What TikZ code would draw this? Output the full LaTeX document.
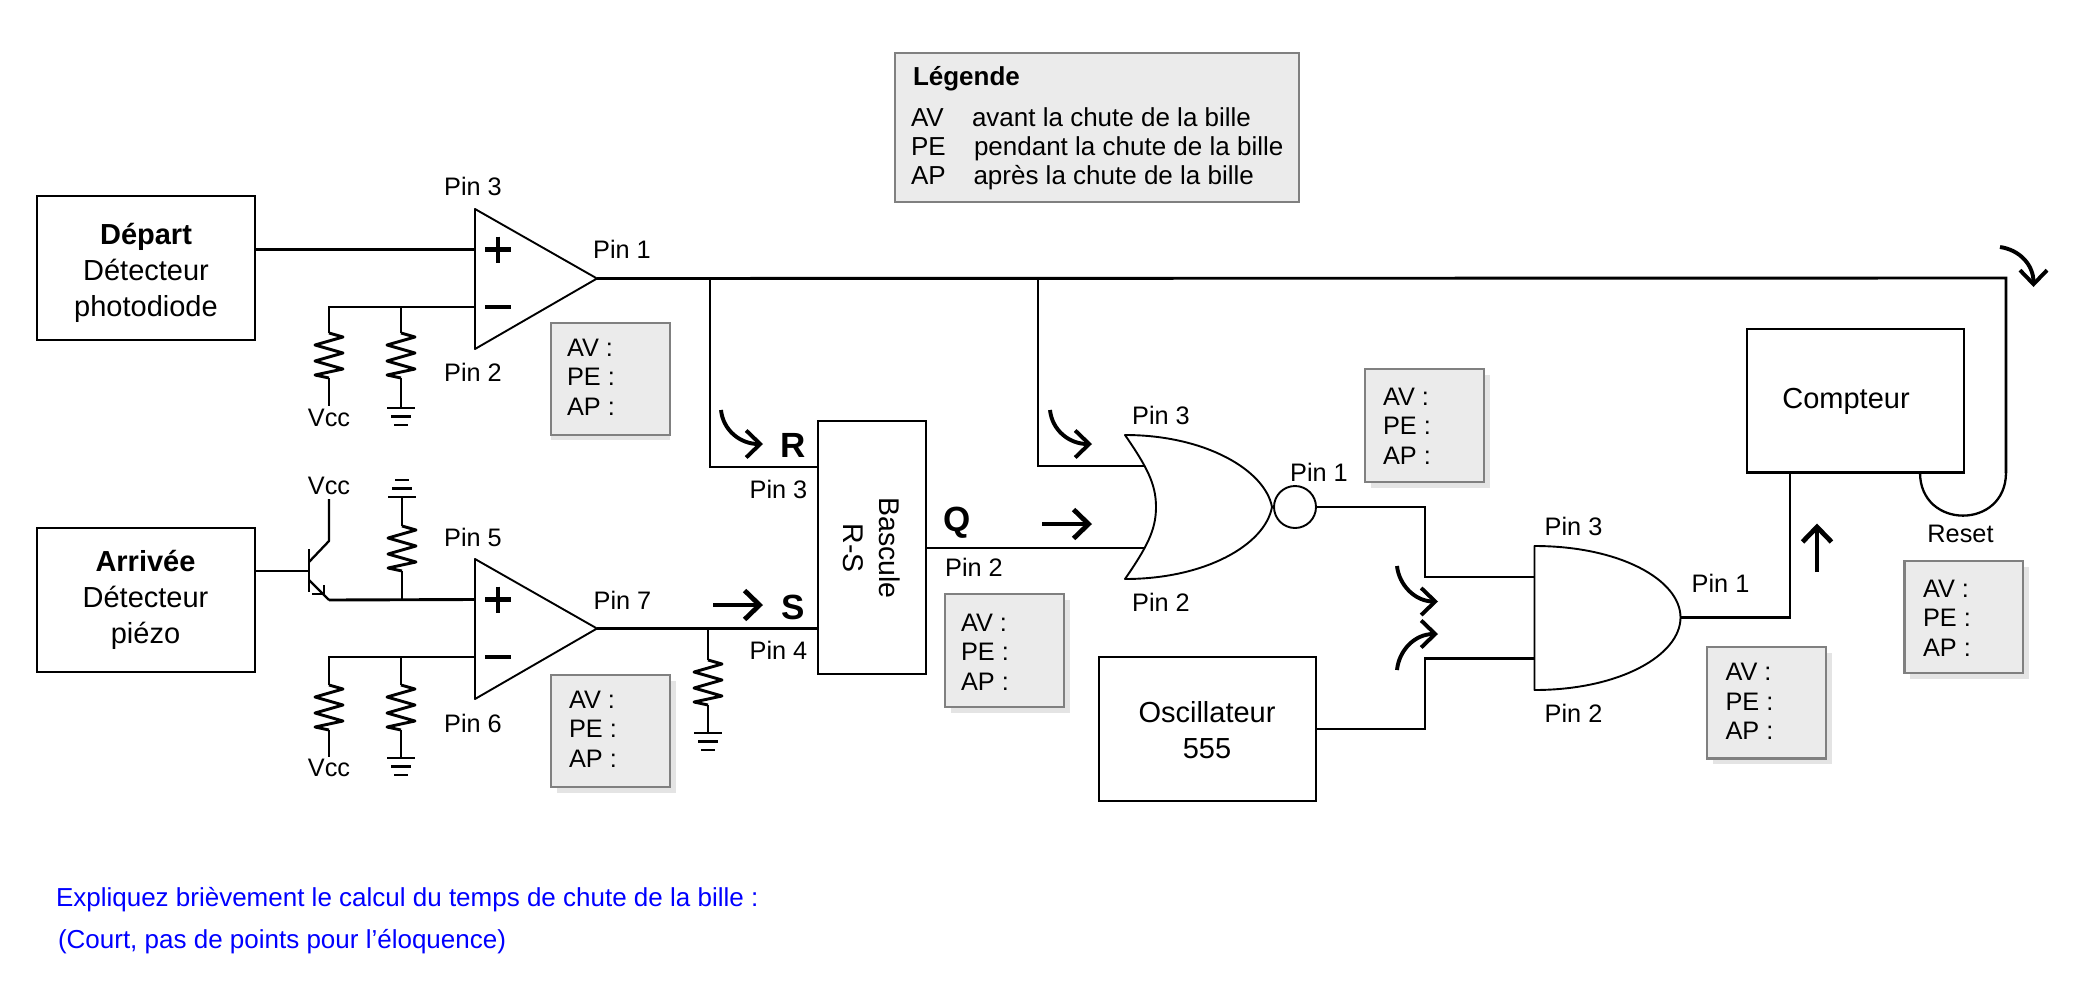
\documentclass[tikz,border=0pt]{standalone}
\usepackage{fontspec}
\setmainfont{Liberation Sans}
\usetikzlibrary{arrows.meta}
\definecolor{grayfill}{HTML}{EBEBEB}
\definecolor{grayline}{HTML}{808080}
\definecolor{grayshadow}{HTML}{E4E4E4}
\tikzset{
  wire/.style={line width=2.9pt,line join=miter,line cap=butt},
  thinwire/.style={line width=2.3pt,line join=round},
  gate/.style={line width=1.9pt,fill=white,line join=round},
  cbox/.style={draw,line width=2.6pt,fill=white,inner sep=0pt,outer sep=0pt,align=center,font=\fontsize{29}{37}\selectfont},
  pinlabel/.style={inner sep=0pt,outer sep=0pt,font=\fontsize{25.3}{25}\selectfont},
  biglabel/.style={inner sep=0pt,outer sep=0pt,font=\fontsize{29}{36}\selectfont,align=center},
  siglabel/.style={inner sep=0pt,outer sep=0pt,font=\bfseries\fontsize{35}{35}\selectfont},
  graybox/.style={draw=grayline,line width=2.8pt,fill=grayfill,inner sep=0pt,outer sep=0pt},
  shadowbox/.style={fill=grayshadow,draw=none},
  vals/.style={inner sep=0pt,outer sep=0pt,anchor=west,align=left,font=\fontsize{25.3}{29.6}\selectfont},
  legendtext/.style={inner sep=0pt,outer sep=0pt,anchor=base west,font=\fontsize{26}{26}\selectfont},
  bluetext/.style={inner sep=0pt,outer sep=0pt,anchor=base west,text=blue,font=\fontsize{26}{26}\selectfont},
  flowarrow/.style={line width=4.8pt,line cap=butt,-{Straight Barb[length=15pt,width=29pt,line width=4.8pt]}},
  curvearrow/.style={line width=3.9pt,line cap=butt,-{Straight Barb[length=14pt,width=27pt,line width=3.9pt]}},
  sign/.style={line width=4.4pt,line cap=butt},
}
% resistor: name, x, top y (45 high)
\newcommand{\resist}[3]{%
  \coordinate (#1-t) at (#2,#3);
  \coordinate (#1-b) at (#2,#3+45);
  \draw[wire,line join=round] (#1-t) -- ++(14,4) -- ++(-28,8) -- ++(28,8) -- ++(-28,8) -- ++(28,8) -- ++(-28,6) -- (#1-b);
}
% ground: name, x, y of main bar, direction (1 down, -1 up)
\newcommand{\earth}[4]{%
  \coordinate (#1) at (#2,#3);
  \draw[wire] (#2-14,#3) -- (#2+14,#3);
  \draw[wire] (#2-10,#3+8.5*#4) -- (#2+10,#3+8.5*#4);
  \draw[wire] (#2-7,#3+17*#4) -- (#2+7,#3+17*#4);
}
% op amp: name, x left, y top
\newcommand{\opamp}[3]{%
  \coordinate (#1-ta) at (#2,#3);
  \coordinate (#1-tb) at (#2,#3+140);
  \coordinate (#1-out) at (#2+122,#3+69.5);
  \coordinate (#1-plus) at (#2,#3+40.5);
  \coordinate (#1-minus) at (#2,#3+98);
  \draw[gate] (#1-ta) -- (#1-out) -- (#1-tb) -- cycle;
  \draw[sign] (#2+10,#3+40.5) -- (#2+36,#3+40.5);
  \draw[sign] (#2+23,#3+27.5) -- (#2+23,#3+53.5);
  \draw[sign] (#2+10,#3+98) -- (#2+36,#3+98);
}
% value box: name, left, top, right, bottom, shadow dx, shadow dy, text x, text y
\newcommand{\valuebox}[9]{%
  \fill[shadowbox] (#2+#6,#3+#7) rectangle (#4+#6,#5+#7);
  \node[graybox,minimum width=#4pt-#2pt,minimum height=#5pt-#3pt] (#1) at ({(#2+#4)/2},{(#3+#5)/2}) {};
  \node[vals] (#1-text) at (#8,#9) {AV :\\PE :\\AP :};
}
\begin{document}
\begin{tikzpicture}[x=1pt,y=-1pt]
\useasboundingbox (0,0) rectangle (2080,980);

% ---- legend
\node[graybox,minimum width=404pt,minimum height=149pt] (legend) at (1097,127.5) {};
\node[legendtext,font=\bfseries\fontsize{26}{26}\selectfont] (legtitle) at (913,85.5) {Légende};
\node[legendtext] (l1a) at (911,126) {AV};
\node[legendtext] (l1b) at (972,126) {avant la chute de la bille};
\node[legendtext] (l2a) at (911,155) {PE};
\node[legendtext] (l2b) at (974,155) {pendant la chute de la bille};
\node[legendtext] (l3a) at (911,184) {AP};
\node[legendtext] (l3b) at (973.5,184) {après la chute de la bille};

% ---- source boxes
\node[cbox,minimum width=218pt,minimum height=144pt] (depart) at (146,268) {};
\node[biglabel] (departtxt) at (146,272.5) {\textbf{Départ}\\Détecteur\\photodiode};
\node[cbox,minimum width=218pt,minimum height=144pt] (arrivee) at (146,600) {};
\node[biglabel] (arriveetxt) at (145.5,599.5) {\textbf{Arrivée}\\Détecteur\\piézo};

% ---- op amp 1
\opamp{oa1}{475}{209}
\draw[wire] (depart.east |- oa1-plus) -- (oa1-plus);
\resist{r1}{329}{333}
\resist{r2}{401}{333}
\earth{g1}{401}{408}{1}
\coordinate (j1) at (401,307);
\draw[wire] (oa1-minus) -- (r1-t |- oa1-minus) -- (r1-t);
\draw[wire] (j1) -- (r2-t);
\coordinate (vcc1) at (329,406);
\draw[wire] (r1-b) -- (vcc1);
\draw[wire] (r2-b) -- (g1);
\node[pinlabel] (vcc1txt) at (329,418) {Vcc};
\node[pinlabel] (p13) at (473,186) {Pin 3};
\node[pinlabel] (p11) at (622,249) {Pin 1};
\node[pinlabel] (p12) at (473,372) {Pin 2};
\valuebox{v1}{551}{323}{670}{435}{0}{5}{567}{377}

% ---- transistor
\coordinate (tb) at (309,571);
\coordinate (te) at (329,600);
\coordinate (tc) at (329,541);
\coordinate (vcc2) at (329,499);
\draw[wire] (arrivee.east |- tb) -- (tb);
\draw[wire] (309,549) -- (309,592);
\draw[thinwire] (309,562) -- (tc) -- (vcc2);
\draw[thinwire] (309,580) -- (te);
\draw[thinwire] (312,594) -- (324,594) -- (324,585);
\node[pinlabel] (vcc2txt) at (329,486) {Vcc};

% ---- op amp 2
\opamp{oa2}{475}{559}
\draw[wire] (te) -- (oa2-plus);
\resist{r3}{402}{526}
\earth{g3}{402}{497}{-1}
\coordinate (j3) at (402,600);
\draw[wire] (r3-t) -- (g3);
\draw[wire] (r3-b) -- (j3);
\resist{r4}{329}{685}
\resist{r5}{401}{685}
\earth{g5}{401}{758}{1}
\coordinate (j5) at (401,657);
\draw[wire] (oa2-minus) -- (r4-t |- oa2-minus) -- (r4-t);
\draw[wire] (j5) -- (r5-t);
\coordinate (vcc3) at (329,757);
\draw[wire] (r4-b) -- (vcc3);
\draw[wire] (r5-b) -- (g5);
\node[pinlabel] (vcc3txt) at (329,768) {Vcc};
\node[pinlabel] (p25) at (473,537) {Pin 5};
\node[pinlabel] (p27) at (622.5,600) {Pin 7};
\node[pinlabel] (p26) at (473,723) {Pin 6};
\valuebox{v2}{551}{675}{670}{787}{5.5}{5.5}{569}{729}

% ---- bascule
\node[cbox,minimum width=108pt,minimum height=253pt] (bascule) at (872,547.5) {};
\node[biglabel,rotate=-90,font=\fontsize{28.5}{35.5}\selectfont] (basculetxt) at (871.5,548) {Bascule\\R-S};
\coordinate (top1) at (710,278);
\coordinate (top2) at (1038,278);
\coordinate (rin) at (818,467);
\draw[wire] (oa1-out) -- (2006,278) -- (2006,473);
\draw[wire] (top1) -- (rin -| top1) -- (rin);
\coordinate (sj) at (708,629);
\draw[wire] (oa2-out) -- (bascule.west |- oa2-out);
\resist{r6}{708}{660}
\earth{g6}{708}{733}{1}
\draw[wire] (sj) -- (r6-t);
\draw[wire] (r6-b) -- (g6);
\node[siglabel] (rlab) at (793,445) {R};
\node[siglabel] (slab) at (793,607) {S};
\node[siglabel] (qlab) at (957,523) {Q};
\node[pinlabel] (b3) at (778.5,489) {Pin 3};
\node[pinlabel] (b4) at (778.5,650) {Pin 4};
\node[pinlabel] (b2) at (974,567) {Pin 2};
\valuebox{v3}{945}{594}{1064}{707}{5.5}{5.5}{961}{652}

% ---- NOR gate
\coordinate (nora) at (1147,466);
\coordinate (norb) at (1147,548);
\draw[wire] (top2) -- (nora -| top2) -- (nora);
\draw[wire] (bascule.east |- norb) -- (norb);
\draw[gate] (1125,435) .. controls (1205,435) and (1265,470) .. (1272,507)
  .. controls (1265,545) and (1205,579) .. (1125,579)
  .. controls (1147,547) and (1156,530) .. (1156,507)
  .. controls (1156,484) and (1147,467) .. cycle;
\node[draw,circle,line width=1.9pt,minimum size=42pt,inner sep=0pt,outer sep=0pt,fill=white] (bubble) at (1295,507) {};
\node[pinlabel] (n3) at (1161,415) {Pin 3};
\node[pinlabel] (n2) at (1161,602) {Pin 2};
\node[pinlabel] (n1) at (1319,472) {Pin 1};
\valuebox{v4}{1365}{369}{1484}{482}{5.5}{5.5}{1383}{426}

% ---- oscillator
\node[cbox,minimum width=217pt,minimum height=144pt] (osc) at (1207.5,729) {};
\node[biglabel] (osctxt) at (1207,730.5) {Oscillateur\\555};

% ---- AND gate
\coordinate (anda) at (1534.5,577);
\coordinate (andb) at (1534.5,658.5);
\coordinate (andout) at (1680.5,617.5);
\draw[wire] (bubble.east) -- (1425,507) -- (1425,577) -- (anda);
\draw[wire] (osc.east) -- (1425,729) -- (1425,658.5) -- (andb);
\draw[gate] (1534.5,546) .. controls (1620,546) and (1680.5,580) .. (andout)
  .. controls (1680.5,655) and (1620,690) .. (1534.5,690) -- cycle;
\node[pinlabel] (a3) at (1573.5,526) {Pin 3};
\node[pinlabel] (a2) at (1573.5,713) {Pin 2};
\node[pinlabel] (a1) at (1720.5,583) {Pin 1};
\valuebox{v5}{1707}{647}{1826}{758.5}{5.5}{5.5}{1725.5}{701.5}

% ---- counter
\node[cbox,minimum width=217pt,minimum height=143.5pt] (compteur) at (1855.5,400.75) {};
\node[biglabel] (compteurtxt) at (1846,401.5) {Compteur};
\draw[wire] (andout) -- (1790,617.5) -- (1790,472.5);
\draw[thinwire] (1920,472.5) .. controls (1920,530) and (2006,530) .. (2006,472.5);
\node[pinlabel] (reset) at (1960.5,534) {Reset};
\valuebox{v6}{1904.5}{561}{2023}{673}{5.5}{5.5}{1923}{618}

% ---- signal arrows
\draw[curvearrow] (721,410) .. controls (723,430) and (740,444) .. (763,444);
\draw[curvearrow] (1050,410) .. controls (1052,430) and (1069,444) .. (1092,444);
\draw[flowarrow] (713,605) -- (763,605);
\draw[flowarrow] (1042,524) -- (1092,524);
\draw[curvearrow] (1397,566) .. controls (1399,585) and (1415,601.5) .. (1438,601.5);
\draw[curvearrow] (1397,670) .. controls (1399,650) and (1415,634) .. (1438,634);
\draw[flowarrow] (1817,572) -- (1817,523.5);
\draw[curvearrow] (2000,247) .. controls (2020,250) and (2033.5,265) .. (2033.5,287);

% ---- question
\node[bluetext] (q1) at (56,906) {Expliquez brièvement le calcul du temps de chute de la bille :};
\node[bluetext] (q2) at (58,948) {(Court, pas de points pour l'éloquence)};
\end{tikzpicture}
\end{document}
